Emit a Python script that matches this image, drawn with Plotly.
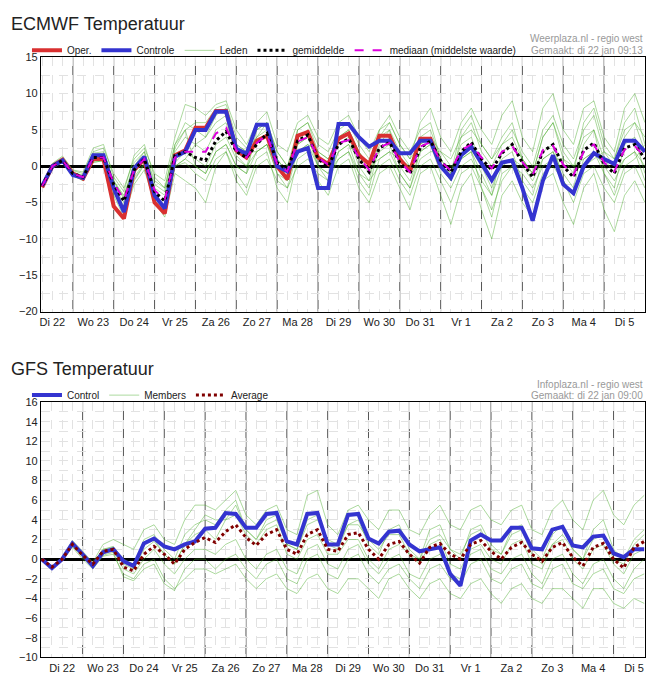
import plotly.graph_objects as go

# ── ECMWF (6-hourly from di 22 jan 06:00) ─────────────────────────────────────
EC_START = 0.25  # days after di 22 00:00
ec_oper = [-2.9, 0, 0.9, -1, -1.7, 1, 1, -5.5, -7.2, -0.5, 1, -5, -6.5, 1.5, 2.2, 5.3, 5.3, 7.6, 7.6, 2.2,
           1.2, 3.5, 4.2, 0, -1.8, 4.2, 4.7, 1.2, 0.3, 3.8, 4.5, 1.5, 0.3, 4.2, 4.2, 1, -0.7, 3.8, 3.8, 0]
ec_control = [-2.7, 0, 0.8, -1.2, -1.6, 1.5, 1.5, -3, -6.3, -0.3, 1.3, -4, -5.8, 1.3, 2, 5, 5, 7.5, 7.5, 2.4,
              1.7, 5.7, 5.7, 0, -0.7, 2, 2.5, -3, -3, 5.8, 5.8, 4, 2.7, 3.5, 3.5, 1.8, 1.8, 3.5, 3.5, 0,
              -1.6, 1.5, 2.7, 0.5, -1.9, 0.5, 0.8, -3, -7.5, -2, 1.5, -2.5, -3.7, 0, 1.8, 1, 0.3, 3.5, 3.5, 2]
ec_mean = [-2.7, 0, 0.8, -1, -1.5, 1.2, 1.2, -2.5, -4.8, -0.5, 1, -3.5, -4.8, 1.5, 2, 1.2, 0.8, 3.5, 4.8, 2,
           1.2, 3, 4.5, 0.5, -0.5, 3.5, 4.3, 1, 0, 3, 3.8, 1, -0.8, 2.5, 3.3, 0.5, -1, 2.5, 3.5, 0.8,
           -0.8, 2, 3.3, 1, -0.5, 1.8, 3, 0.5, -1.5, 2, 3, 0, -1.5, 2.2, 3.2, 0.3, -1, 2.5, 3, 1]
ec_median = [-2.7, 0, 0.8, -1, -1.5, 1.2, 1.2, -2.3, -4.6, -0.5, 1, -3.3, -4.6, 1.2, 2, 2, 2, 4.5, 5.3, 2.2,
             1.2, 3.2, 4.3, 0.3, -0.7, 3.4, 4, 1.2, 0.2, 3.2, 3.6, 1.2, -0.5, 2.6, 3.2, 0.6, -0.8, 2.7, 3.3, 0.7,
             -0.6, 2.2, 3, 1.2, -0.3, 2, 2.8, 0.6, -1.2, 2.2, 2.8, 0.2, -1.2, 2, 3, 0.5, -0.7, 2.3, 2.8, 1.2]
ec_members = [
    [-2.6, 0.3, 1.2, -0.6, -1, 2, 2.5, -1, -3, 1, 2.5, -1, -2, 4, 8.5, 8, 7, 8.5, 9, 5,
     3, 6, 7.5, 3, 2, 6, 7, 4, 3, 6, 7, 4, 2, 5, 6, 3, 1, 6, 8, 4,
     2, 6, 8, 5, 3, 7, 9, 4, 2, 8, 10, 5, 3, 8, 9, 4, 2, 8, 10, 6],
    [-2.8, -0.3, 0.5, -1.3, -2, 0.5, 0.8, -3.5, -6.5, -2, 0.2, -5, -7, -1, -2, -3, -5, 0, 2, -1,
     -3, 1, 2, -3, -5, 1, 2, -2, -4, 0, 1, -3, -5, -1, 0, -3, -6, -1, 0, -4,
     -8, -3, -1, -6, -10, -4, -2, -5, -7, -2, -1, -5, -8, -3, -1, -6, -9, -4, -2, -5],
    [-2.7, 0.1, 0.9, -0.8, -1.3, 1.6, 1.8, -2, -4, 0, 1.5, -3, -4, 2, 4, 3, 2, 5, 6, 1.5,
     0, 4, 6, 2, 0, 4, 5, 0, -2, 2, 3, -1, -3, 3, 5, 2, 0, 4, 5, 1,
     -1, 3, 4, 0, -3, 1, 2, -2, -4, 1, 2, -1, -3, 3, 5, 1, -1, 1, 2, -2],
    [-2.7, 0, 0.7, -1.1, -1.6, 1, 1.1, -3, -5.5, -1, 0.8, -4, -6, 0, 1, 3, 4, 6, 7, 3,
     2, 2, 3, -1, -3, 2, 3, 2, 1, 4, 5, 2, 0, 1, 2, -1, -3, 1, 2, 2,
     1, 4, 5, 3, 1, 3, 4, 1, -1, 4, 6, 2, 0, 4, 5, -1, -4, 0, 1, 3],
    [-2.7, 0.2, 1, -0.9, -1.4, 1.3, 1.4, -2.2, -4.2, 0.5, 2, -2.5, -3.5, 2.5, 5, 0, -1, 2, 3, 0,
     -1, 5, 6, 1, -1, 5, 6, 3, 2, 5, 6, 3, 1, 4, 5, 0, -2, 2, 3, -1,
     -3, 0, 1, -2, -4, 2, 3, 1, -1, 2, 3, -2, -4, 0, 1, 2, 1, 5, 6, 4],
    [-2.7, 0, 0.8, -1, -1.8, 0.8, 1, -2.8, -5, -1.5, 0.5, -3.8, -5.5, 0.5, 2, 1, 0, 3, 4, 1,
     0, 2, 3, -1, -2, 2, 3, 0, -1, 1, 2, -2, -4, 1, 2, 1, 0, 3, 4, 2,
     0, 1, 2, -3, -7, -1, 0, -1, -3, 0, 1, 1, 0, 1, 2, -1, -3, 3, 4, -1],
    [-2.8, 0.1, 1, -1, -1.2, 1.8, 2, -2, -4.5, 0, 2, -2, -3, 3, 6, 5, 4, 7, 8, 3,
     2, 4, 5, 1, -1, 3, 4, 1, 0, 3, 4, 0, -2, 4, 6, 3, 1, 3, 4, 0,
     -2, 4, 6, 2, 0, 3, 5, 2, 0, 5, 7, 3, 1, 5, 7, 2, 0, 4, 6, 2],
    [-2.7, -0.2, 0.6, -1.2, -1.8, 0.6, 0.7, -4, -7, -2.5, -0.5, -5, -6.5, 0, 1, 0, -1, 2, 3, 0,
     -1, 2, 3, 0, -2, 3, 4, 0, -1, 2, 3, 1, -1, 2, 3, -1, -3, 2, 3, 0,
     -2, 1, 2, -1, -4, 0, 1, 0, -2, 1, 2, -2, -4, 1, 2, 0, -2, 1, 2, 0],
    [-2.7, 0.4, 1.4, -0.5, -0.8, 2.5, 3, -1.5, -3.5, 1.5, 3, -1.5, -3, 3, 5, 6, 6, 8, 8.5, 4,
     2.5, 5, 6, 2, 0, 5, 6, 2, 1, 4, 5, 2, 0, 5, 7, 4, 2, 5, 6, 1,
     -1, 5, 7, 3, 1, 4, 6, 1, -1, 4, 6, 1, -1, 6, 8, 3, 1, 6, 8, 3],
    [-2.8, -0.1, 0.7, -1.2, -1.9, 0.9, 1, -3.2, -6, -1.8, 0.3, -4.5, -6, 0, 0.5, -1, -2, 1, 2, -2,
     -4, 0, 1, -2, -3, 0, 1, -1, -2, 1, 2, -1, -2, 0, 1, -2, -4, 0, 1, -2,
     -5, -1, 0, -3, -6, -2, 0, -3, -5, -1, 0, -2, -5, -1, 0, -3, -5, -1, 0, -3],
]

# ── GFS (6-hourly from di 22 jan 00:00) ───────────────────────────────────────
GFS_START = 0.0
gfs_control = [0, -0.9, 0, 1.6, 0.5, -0.7, 0.7, 1, -0.2, -0.7, 1.6, 2.1, 1.3, 1, 1.5, 1.8, 3.1, 3.2, 4.7, 4.6,
               3.2, 3.2, 4.6, 4.7, 1.8, 1.5, 4.6, 4.7, 1.5, 1.5, 4.5, 4.6, 2.1, 1.6, 2.8, 2.9, 1.5, 0.8, 1, 1.2,
               -1.5, -2.7, 1.9, 2.5, 1.9, 1.9, 3.2, 3.2, 1.1, 1, 3, 3.3, 1.4, 1.2, 2.3, 2.4, 0.6, 0.2, 1, 1]
gfs_average = [0, -0.8, 0, 1.5, 0.4, -0.5, 0.8, 1, -0.8, -1.2, 0.5, 1.3, 0.5, -0.5, 1, 1.7, 2.2, 1.7, 2.8, 3.5,
               2.2, 1.4, 2.5, 3, 1, 0.5, 2.5, 3, 1, 0.8, 2.5, 2.7, 1, 0, 1.5, 1.8, 0.5, -0.4, 1.2, 1.6,
               0.5, 0, 1.5, 1.9, 0.8, 0, 1.2, 1.7, 0.5, -0.2, 1.2, 1.7, 0.2, -0.7, 1.2, 1.6, 0, -0.9, 1.2, 1.8]
gfs_members = [
    [0, -0.7, 0.2, 1.9, 0.8, -0.3, 1.5, 2, 1.5, 1, 3, 3.5, 2, 1.5, 4, 5.5, 5.5, 5, 6, 7,
     4.5, 3.5, 5, 5.5, 3, 2.5, 6.5, 7, 3.5, 2.5, 5, 5.5, 4, 3, 5, 5, 3, 2.5, 4.5, 5.5,
     3.5, 3, 5, 5.5, 4, 3.5, 5, 5.5, 3, 2.5, 5, 6, 4, 3, 6, 7, 4.5, 3.5, 5.5, 6.5],
    [0, -1, -0.2, 1.2, 0, -1, 0.3, 0.5, -1.5, -2, -0.5, 0, -2, -3, -2, -1, -1, -1.5, -1, -0.5,
     -2, -3, -2, -1.5, -3, -3.5, -2, -1.5, -3, -3.5, -2, -2, -3, -4, -2, -1.5, -3, -4, -2.5, -2,
     -3.5, -4, -2.5, -2, -3.5, -4.5, -3, -2.5, -4, -4.5, -3, -3, -4, -5, -3, -3, -4.5, -5, -4, -4.5],
    [0, -0.8, 0.1, 1.6, 0.5, -0.5, 1, 1.2, -0.3, -0.8, 2, 2.5, 1, 0, 2.5, 3.5, 4, 3.5, 5, 6,
     3, 2, 4, 4.5, 1.5, 1, 4, 4.5, 1.5, 1, 3.5, 4, 1.5, 0.5, 3, 3.5, 1, 0, 3, 3.5,
     1, 0, 3, 3.5, 1.5, 0.5, 3, 3.5, 1, 0, 2.5, 3.5, 1, 0, 3, 4, 1, 0, 2, 3],
    [0, -0.9, -0.1, 1.4, 0.3, -0.7, 0.6, 0.9, -1, -1.5, 0, 1, -0.5, -1.5, 0, 1, 1, 0.5, 1.5, 2,
     0, -1, 0.5, 1, -1, -1.5, 1, 1.5, -0.5, -1, 1, 1.5, -0.5, -1.5, 0, 0.5, -1.5, -2, 0, 0.5,
     -1.5, -2, 0.5, 1, -1, -1.5, 0, 0.5, -1.5, -2.5, 0, 0.5, -1.5, -2.5, -0.5, 0, -2, -3, -1, 0],
    [0, -0.8, 0, 1.5, 0.5, -0.6, 0.8, 1.1, -0.5, -1, 1, 1.8, 0.5, -0.5, 1.5, 3, 4.5, 4, 4, 4.5,
     2.5, 1.5, 3, 3.5, 0.5, 0, 2, 2.5, 0.5, 0.5, 2, 2, 0, -1, 1, 1.5, 0.5, 0, 2, 2.5,
     1, 0.5, 2.5, 3, 1, 0.5, 2.5, 3, 0.5, -0.5, 1.5, 2.5, 1, 0, 2, 2.5, 0, -0.5, 1.5, 2.5],
    [0, -0.8, 0.1, 1.7, 0.6, -0.4, 1, 1.3, 0, -0.5, 1.5, 2, 0.5, -0.5, 1.5, 2.5, 3, 2, 4, 5.5,
     3, 2, 3.5, 4, 1.5, 1, 3.5, 4, 2, 1.5, 3.5, 3.5, 2, 1, 2.5, 2.5, 0.5, -0.5, 1.5, 2,
     -0.5, -1, 1, 1.5, 0, -0.5, 1.5, 2, -0.5, -1, 1.5, 2, 0, -1, 1, 1.5, -0.5, -1.5, 0.5, 1],
    [0, -0.9, 0, 1.3, 0.2, -0.9, 0.4, 0.7, -1.8, -2.2, -1, -0.5, -2.5, -3.2, -1, 0, 0, -1, 0, 0.5,
     -1, -2, -0.5, 0, -2, -2.5, 0, 0.5, -1.5, -2, 0, 0.5, -1.5, -2.5, -1, -0.5, -2, -3, -1, -0.5,
     -2, -2.5, -0.5, 0, -2, -2.5, -1, -0.5, -2.5, -3, -1, -0.5, -2.5, -3, -1.5, -1, -3, -3.5, -2, -1.5],
]

day_labels = ["Di 22", "Wo 23", "Do 24", "Vr 25", "Za 26", "Zo 27", "Ma 28", "Di 29",
              "Wo 30", "Do 31", "Vr 1", "Za 2", "Zo 3", "Ma 4", "Di 5"]

MEMBER_COLOR = "rgba(70,170,40,0.45)"
FONT = "Liberation Sans, Arial, sans-serif"
W, H = 638, 677
OFF_X, OFF_Y = 8, 8


def xs(start, values):
    return [start + 0.25 * i for i in range(len(values))]


def px(x):
    return min(1.0, max(0.0, (x - OFF_X) / W))


def py(y):
    return min(1.0, max(0.0, 1 - (y - OFF_Y) / H))


fig = go.Figure()

order = {"Oper.": 1, "Controle": 2, "Leden": 3, "gemiddelde": 4, "mediaan (middelste waarde)": 5,
         "Control": 1, "Members": 2, "Average": 3}

# ECMWF traces
for k, m in enumerate(ec_members):
    fig.add_trace(go.Scatter(x=xs(EC_START, m), y=m, mode="lines", name="Leden",
                             line=dict(color=MEMBER_COLOR, width=1),
                             showlegend=(k == 0), legend="legend", xaxis="x", yaxis="y"))
fig.add_trace(go.Scatter(x=xs(EC_START, ec_oper), y=ec_oper, mode="lines", name="Oper.",
                         line=dict(color="#d93030", width=4), legend="legend"))
fig.add_trace(go.Scatter(x=xs(EC_START, ec_control), y=ec_control, mode="lines", name="Controle",
                         line=dict(color="#3434d0", width=4), legend="legend"))
fig.add_trace(go.Scatter(x=xs(EC_START, ec_mean), y=ec_mean, mode="lines", name="gemiddelde",
                         line=dict(color="black", width=3, dash="dot"), legend="legend"))
fig.add_trace(go.Scatter(x=xs(EC_START, ec_median), y=ec_median, mode="lines",
                         name="mediaan (middelste waarde)",
                         line=dict(color="#dd00dd", width=2, dash="dash"), legend="legend"))

# GFS traces
for k, m in enumerate(gfs_members):
    fig.add_trace(go.Scatter(x=xs(GFS_START, m), y=m, mode="lines", name="Members",
                             line=dict(color=MEMBER_COLOR, width=1),
                             showlegend=(k == 0), legend="legend2", xaxis="x2", yaxis="y2"))
fig.add_trace(go.Scatter(x=xs(GFS_START, gfs_control), y=gfs_control, mode="lines", name="Control",
                         line=dict(color="#3434d0", width=4), legend="legend2",
                         xaxis="x2", yaxis="y2"))
fig.add_trace(go.Scatter(x=xs(GFS_START, gfs_average), y=gfs_average, mode="lines", name="Average",
                         line=dict(color="#800000", width=3, dash="dot"), legend="legend2",
                         xaxis="x2", yaxis="y2"))

for tr in fig.data:
    tr.legendrank = order.get(tr.name, 10)

GRID = "#e2e2e2"
xcommon = dict(
    tickvals=[d + 0.5 for d in range(len(day_labels))], ticktext=day_labels,
    showgrid=False, zeroline=False, ticks="", showline=True, linecolor="black", mirror=True,
    tickfont=dict(size=11, color="#222"),
    minor=dict(dtick=0.25, tick0=0, showgrid=True, gridcolor=GRID, griddash="dash", gridwidth=1),
)
ycommon = dict(showgrid=True, gridcolor=GRID, griddash="dash", zeroline=True,
               zerolinecolor="black", zerolinewidth=2.5, showline=True, linecolor="black",
               mirror=True, ticks="", tickfont=dict(size=11, color="#222"))

fig.update_layout(
    width=W, height=H, paper_bgcolor="white", plot_bgcolor="white",
    font=dict(family=FONT, color="#222"),
    margin=dict(l=0, r=0, t=0, b=0),
    xaxis=dict(domain=[px(40), px(645)], range=[0.22, 15.0], anchor="y", **xcommon),
    yaxis=dict(domain=[py(311), py(52)], range=[-20, 15], dtick=5, anchor="x",
               minor=dict(dtick=2.5, showgrid=True, gridcolor=GRID, griddash="dash"), **ycommon),
    xaxis2=dict(domain=[px(40), px(645)], range=[-0.02, 14.77], anchor="y2", **xcommon),
    yaxis2=dict(domain=[py(663), py(403)], range=[-10, 16], dtick=2, anchor="x2",
                minor=dict(dtick=1, showgrid=True, gridcolor=GRID, griddash="dash"), **ycommon),
    legend=dict(orientation="h", x=px(26), y=py(45), xanchor="left", yanchor="middle",
                font=dict(size=10, color="#222"), bgcolor="rgba(0,0,0,0)", itemwidth=30),
    legend2=dict(orientation="h", x=px(26), y=py(396), xanchor="left", yanchor="middle",
                 font=dict(size=10, color="#222"), bgcolor="rgba(0,0,0,0)", itemwidth=30),
    showlegend=True,
)

# day separators
for d in range(1, 15):
    fig.add_shape(type="line", xref="x", yref="y domain", x0=d, x1=d, y0=0, y1=1,
                  line=dict(color="#555", width=1), layer="below")
    fig.add_shape(type="line", xref="x2", yref="y2 domain", x0=d, x1=d, y0=0, y1=1,
                  line=dict(color="#555", width=1), layer="below")

annots = [
    (8, 18, "ECMWF Temperatuur", 18, "#222", "left"),
    (8, 369, "GFS Temperatuur", 18, "#222", "left"),
    (645, 33, "Weerplaza.nl - regio west", 10, "#999", "right"),
    (645, 45, "Gemaakt: di 22 jan 09:13", 10, "#999", "right"),
    (645, 385, "Infoplaza.nl - regio west", 10, "#999", "right"),
    (645, 396, "Gemaakt: di 22 jan 09:00", 10, "#999", "right"),
]
for x, y, text, size, color, align in annots:
    fig.add_annotation(x=px(x), y=py(y), xref="paper", yref="paper", text=text,
                       showarrow=False, xanchor=align, yanchor="middle",
                       font=dict(size=size, color=color, family=FONT))

fig.write_html("out.html")
